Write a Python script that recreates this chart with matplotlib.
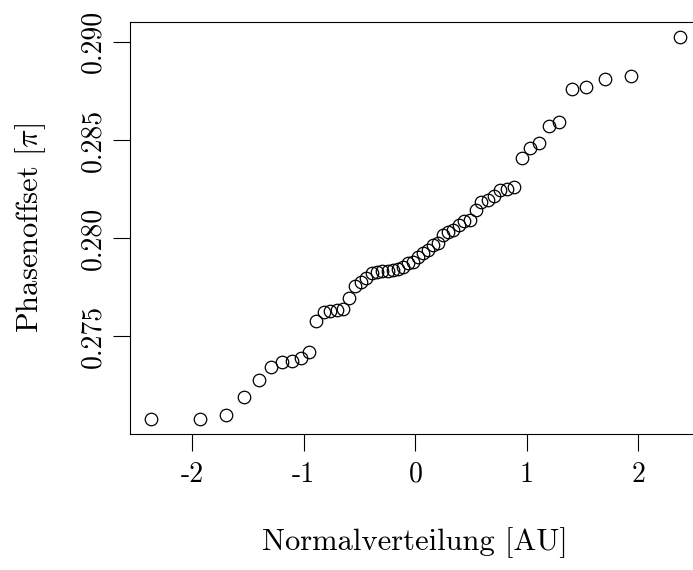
import matplotlib
matplotlib.use('Agg')
import matplotlib.pyplot as plt

# theoretical normal quantiles (x axis)
quantiles = [-2.369, -1.931, -1.700, -1.534, -1.403, -1.291, -1.195, -1.108, -1.029, -0.956,
             -0.887, -0.823, -0.761, -0.703, -0.647, -0.592, -0.540, -0.489, -0.439, -0.390,
             -0.342, -0.295, -0.249, -0.203, -0.157, -0.112, -0.067, -0.022,
             0.022, 0.067, 0.112, 0.157, 0.203, 0.249, 0.295, 0.342, 0.390, 0.439,
             0.489, 0.540, 0.592, 0.647, 0.703, 0.761, 0.823, 0.887, 0.956, 1.029,
             1.108, 1.195, 1.291, 1.403, 1.534, 1.700, 1.931, 2.369]

# sorted phase offsets in units of pi
phase_offset = [0.27080, 0.27080, 0.27097, 0.27190, 0.27277, 0.27345, 0.27371, 0.27374, 0.27387, 0.27422,
                0.27579, 0.27623, 0.27627, 0.27632, 0.27641, 0.27697, 0.27756, 0.27778, 0.27798, 0.27824,
                0.27830, 0.27832, 0.27834, 0.27837, 0.27843, 0.27853, 0.27871, 0.27879, 0.27902, 0.27922,
                0.27942, 0.27963, 0.27976, 0.28014, 0.28029, 0.28042, 0.28067, 0.28085, 0.28095, 0.28141,
                0.28182, 0.28192, 0.28217, 0.28243, 0.28253, 0.28262, 0.28409, 0.28460, 0.28486, 0.28570,
                0.28591, 0.28760, 0.28771, 0.28812, 0.28825, 0.29025]

x_ticks = [-2, -1, 0, 1, 2]
x_tick_labels = ['-2', '-1', '0', '1', '2']
y_ticks = [0.275, 0.280, 0.285, 0.290]
y_tick_labels = ['0.275', '0.280', '0.285', '0.290']


def make_plot(plotname):
    plt.rcParams['font.family'] = 'serif'
    plt.rcParams['font.serif'] = ['cmr10']
    plt.rcParams['mathtext.fontset'] = 'cm'
    plt.rcParams['axes.unicode_minus'] = False

    fig = plt.figure(figsize=(6.93, 5.70), dpi=100)
    # box runs past the right edge of the picture, like the original
    ax = fig.add_axes([0.1876, 0.2386, 0.8235, 0.7233])
    ax.plot(quantiles, phase_offset, 'o', mfc='none', mec='k', ms=9, mew=0.9)
    ax.margins(0.04)

    for s in ax.spines.values():
        s.set_linewidth(0.8)

    ax.set_xticks(x_ticks)
    ax.set_xticklabels(x_tick_labels)
    ax.set_yticks(y_ticks)
    ax.set_yticklabels(y_tick_labels, rotation=90, va='center')
    ax.tick_params(axis='both', direction='out', length=11.9, width=0.8, labelsize=20)
    ax.tick_params(axis='x', pad=8)
    ax.tick_params(axis='y', pad=5)

    ax.set_xlabel('Normalverteilung [AU]', fontsize=22, labelpad=28)
    ax.set_ylabel(r'Phasenoffset [$\pi$]', fontsize=22, labelpad=23)

    plt.savefig(f'{plotname}.png', dpi=100)


make_plot('out')
